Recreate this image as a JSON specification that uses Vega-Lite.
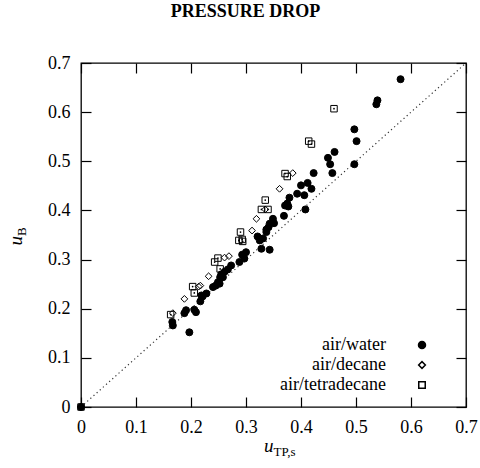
{
  "$schema": "https://vega.github.io/schema/vega-lite/v6.json",
  "width": 385,
  "height": 344,
  "autosize": {"type": "none"},
  "padding": {"left": 81, "top": 63, "right": 14, "bottom": 61},
  "title": {"text": "PRESSURE DROP", "font": "Liberation Serif", "fontSize": 18, "fontWeight": "bold", "color": "black", "anchor": "middle", "dx": -28, "offset": 19, "baseline": "alphabetic"},
  "config": {
    "view": {"stroke": "black", "strokeWidth": 1.3},
    "axis": {"grid": false, "domain": false, "tickSize": 10, "offset": -10, "tickColor": "black", "tickWidth": 1.2, "labelFont": "Liberation Serif", "labelFontSize": 18, "labelColor": "black", "labelPadding": 11, "labelFlush": false, "title": null},
    "legend": {"labelFont": "Liberation Serif", "labelFontSize": 18, "labelColor": "black", "rowPadding": 2, "padding": 0, "labelLimit": 0}
  },
  "datasets": {
    "pts": [
      {"series": "air/water", "x": 0, "y": 0},
      {"series": "air/water", "x": 0.581, "y": 0.667},
      {"series": "air/water", "x": 0.539, "y": 0.624},
      {"series": "air/water", "x": 0.537, "y": 0.616},
      {"series": "air/water", "x": 0.497, "y": 0.565},
      {"series": "air/water", "x": 0.501, "y": 0.541},
      {"series": "air/water", "x": 0.497, "y": 0.494},
      {"series": "air/water", "x": 0.461, "y": 0.519},
      {"series": "air/water", "x": 0.449, "y": 0.507},
      {"series": "air/water", "x": 0.453, "y": 0.494},
      {"series": "air/water", "x": 0.457, "y": 0.476},
      {"series": "air/water", "x": 0.423, "y": 0.476},
      {"series": "air/water", "x": 0.400, "y": 0.451},
      {"series": "air/water", "x": 0.412, "y": 0.456},
      {"series": "air/water", "x": 0.419, "y": 0.444},
      {"series": "air/water", "x": 0.406, "y": 0.431},
      {"series": "air/water", "x": 0.408, "y": 0.402},
      {"series": "air/water", "x": 0.393, "y": 0.434},
      {"series": "air/water", "x": 0.379, "y": 0.426},
      {"series": "air/water", "x": 0.375, "y": 0.414},
      {"series": "air/water", "x": 0.371, "y": 0.410},
      {"series": "air/water", "x": 0.377, "y": 0.408},
      {"series": "air/water", "x": 0.369, "y": 0.389},
      {"series": "air/water", "x": 0.349, "y": 0.383},
      {"series": "air/water", "x": 0.343, "y": 0.373},
      {"series": "air/water", "x": 0.351, "y": 0.374},
      {"series": "air/water", "x": 0.337, "y": 0.361},
      {"series": "air/water", "x": 0.341, "y": 0.366},
      {"series": "air/water", "x": 0.337, "y": 0.356},
      {"series": "air/water", "x": 0.321, "y": 0.347},
      {"series": "air/water", "x": 0.325, "y": 0.339},
      {"series": "air/water", "x": 0.331, "y": 0.343},
      {"series": "air/water", "x": 0.328, "y": 0.322},
      {"series": "air/water", "x": 0.343, "y": 0.320},
      {"series": "air/water", "x": 0.300, "y": 0.315},
      {"series": "air/water", "x": 0.293, "y": 0.310},
      {"series": "air/water", "x": 0.297, "y": 0.302},
      {"series": "air/water", "x": 0.288, "y": 0.295},
      {"series": "air/water", "x": 0.273, "y": 0.288},
      {"series": "air/water", "x": 0.267, "y": 0.280},
      {"series": "air/water", "x": 0.261, "y": 0.275},
      {"series": "air/water", "x": 0.258, "y": 0.264},
      {"series": "air/water", "x": 0.253, "y": 0.264},
      {"series": "air/water", "x": 0.249, "y": 0.254},
      {"series": "air/water", "x": 0.245, "y": 0.247},
      {"series": "air/water", "x": 0.240, "y": 0.244},
      {"series": "air/water", "x": 0.255, "y": 0.270},
      {"series": "air/water", "x": 0.252, "y": 0.251},
      {"series": "air/water", "x": 0.228, "y": 0.231},
      {"series": "air/water", "x": 0.219, "y": 0.227},
      {"series": "air/water", "x": 0.221, "y": 0.225},
      {"series": "air/water", "x": 0.217, "y": 0.215},
      {"series": "air/water", "x": 0.191, "y": 0.197},
      {"series": "air/water", "x": 0.188, "y": 0.191},
      {"series": "air/water", "x": 0.206, "y": 0.198},
      {"series": "air/water", "x": 0.209, "y": 0.193},
      {"series": "air/water", "x": 0.166, "y": 0.173},
      {"series": "air/water", "x": 0.167, "y": 0.166},
      {"series": "air/water", "x": 0.197, "y": 0.152},
      {"series": "air/decane", "x": 0, "y": 0},
      {"series": "air/decane", "x": 0.385, "y": 0.476},
      {"series": "air/decane", "x": 0.361, "y": 0.444},
      {"series": "air/decane", "x": 0.335, "y": 0.402},
      {"series": "air/decane", "x": 0.319, "y": 0.383},
      {"series": "air/decane", "x": 0.311, "y": 0.359},
      {"series": "air/decane", "x": 0.269, "y": 0.307},
      {"series": "air/decane", "x": 0.261, "y": 0.304},
      {"series": "air/decane", "x": 0.232, "y": 0.266},
      {"series": "air/decane", "x": 0.217, "y": 0.247},
      {"series": "air/decane", "x": 0.214, "y": 0.245},
      {"series": "air/decane", "x": 0.188, "y": 0.220},
      {"series": "air/decane", "x": 0.167, "y": 0.191},
      {"series": "air/tetradecane", "x": 0, "y": 0},
      {"series": "air/tetradecane", "x": 0.46, "y": 0.607},
      {"series": "air/tetradecane", "x": 0.414, "y": 0.541},
      {"series": "air/tetradecane", "x": 0.419, "y": 0.535},
      {"series": "air/tetradecane", "x": 0.371, "y": 0.475},
      {"series": "air/tetradecane", "x": 0.375, "y": 0.469},
      {"series": "air/tetradecane", "x": 0.335, "y": 0.421},
      {"series": "air/tetradecane", "x": 0.328, "y": 0.402},
      {"series": "air/tetradecane", "x": 0.340, "y": 0.402},
      {"series": "air/tetradecane", "x": 0.290, "y": 0.356},
      {"series": "air/tetradecane", "x": 0.293, "y": 0.341},
      {"series": "air/tetradecane", "x": 0.287, "y": 0.339},
      {"series": "air/tetradecane", "x": 0.294, "y": 0.337},
      {"series": "air/tetradecane", "x": 0.249, "y": 0.303},
      {"series": "air/tetradecane", "x": 0.243, "y": 0.295},
      {"series": "air/tetradecane", "x": 0.253, "y": 0.281},
      {"series": "air/tetradecane", "x": 0.203, "y": 0.245},
      {"series": "air/tetradecane", "x": 0.206, "y": 0.232},
      {"series": "air/tetradecane", "x": 0.163, "y": 0.188}
    ],
    "diag": [{"x": 0, "y": 0}, {"x": 0.7, "y": 0.7}]
  },
  "layer": [
    {
      "data": {"name": "diag"},
      "mark": {"type": "line", "stroke": "#333333", "strokeWidth": 1.2, "strokeDash": [1.2, 3]},
      "encoding": {
        "x": {"field": "x", "type": "quantitative", "scale": {"domain": [0, 0.7], "nice": false, "zero": false},
              "axis": {"orient": "bottom", "values": [0, 0.1, 0.2, 0.3, 0.4, 0.5, 0.6, 0.7], "labelExpr": "datum.value == 0 ? '0' : format(datum.value, '.1f')"}},
        "y": {"field": "y", "type": "quantitative", "scale": {"domain": [0, 0.7], "nice": false, "zero": false},
              "axis": {"orient": "left", "values": [0, 0.1, 0.2, 0.3, 0.4, 0.5, 0.6, 0.7], "labelExpr": "datum.value == 0 ? '0' : format(datum.value, '.1f')"}}
      }
    },
    {
      "data": {"name": "pts"},
      "mark": {"type": "point", "opacity": 1, "stroke": "black", "strokeWidth": 1},
      "encoding": {
        "x": {"field": "x", "type": "quantitative", "axis": {"orient": "top", "labels": false, "values": [0, 0.1, 0.2, 0.3, 0.4, 0.5, 0.6, 0.7]}},
        "y": {"field": "y", "type": "quantitative", "axis": {"orient": "right", "labels": false, "values": [0, 0.1, 0.2, 0.3, 0.4, 0.5, 0.6, 0.7]}},
        "shape": {"field": "series", "type": "nominal",
                  "legend": {"title": null, "orient": "none", "legendX": 332, "legendY": 273, "labelAlign": "right", "labelOffset": -45,
                             "encode": {"symbols": {"update": {"stroke": {"value": "black"}, "strokeWidth": {"value": 1}}}}},
                  "scale": {"domain": ["air/water", "air/decane", "air/tetradecane"], "range": ["circle", "diamond", "square"]}},
        "fill": {"field": "series", "type": "nominal",
                 "legend": {"title": null, "orient": "none", "legendX": 332, "legendY": 273, "labelAlign": "right", "labelOffset": -45,
                            "encode": {"symbols": {"update": {"stroke": {"value": "black"}, "strokeWidth": {"value": 1}}}}},
                 "scale": {"domain": ["air/water", "air/decane", "air/tetradecane"], "range": ["black", "transparent", "transparent"]}},
        "size": {"field": "series", "type": "nominal",
                 "legend": {"title": null, "orient": "none", "legendX": 332, "legendY": 273, "labelAlign": "right", "labelOffset": -45,
                            "encode": {"symbols": {"update": {"stroke": {"value": "black"}, "strokeWidth": {"value": 1}}}}},
                 "scale": {"domain": ["air/water", "air/decane", "air/tetradecane"], "range": [49, 42, 64]}}
      }
    },
    {
      "data": {"name": "pts"},
      "transform": [{"filter": "datum.series == 'air/tetradecane'"}],
      "mark": {"type": "point", "filled": true, "fill": "black", "opacity": 1, "size": 3, "shape": "circle"},
      "encoding": {
        "x": {"field": "x", "type": "quantitative", "axis": null},
        "y": {"field": "y", "type": "quantitative", "axis": null}
      }
    },
    {
      "data": {"values": [{}]},
      "mark": {"type": "text", "text": "u", "font": "Liberation Serif", "fontStyle": "italic", "fontSize": 19, "align": "right", "baseline": "alphabetic", "color": "black"},
      "encoding": {
        "x": {"datum": 0.35, "type": "quantitative", "axis": null},
        "y": {"datum": -0.0916, "type": "quantitative", "axis": null}
      }
    },
    {
      "data": {"values": [{}]},
      "mark": {"type": "text", "text": "TP,s", "font": "Liberation Serif", "fontSize": 13, "align": "left", "baseline": "alphabetic", "dy": 4, "color": "black"},
      "encoding": {
        "x": {"datum": 0.35, "type": "quantitative", "axis": null},
        "y": {"datum": -0.0916, "type": "quantitative", "axis": null}
      }
    },
    {
      "data": {"values": [{}]},
      "mark": {"type": "text", "text": "u", "font": "Liberation Serif", "fontStyle": "italic", "fontSize": 19, "align": "right", "baseline": "alphabetic", "angle": 270, "color": "black"},
      "encoding": {
        "x": {"datum": -0.107, "type": "quantitative", "axis": null},
        "y": {"datum": 0.348, "type": "quantitative", "axis": null}
      }
    },
    {
      "data": {"values": [{}]},
      "mark": {"type": "text", "text": "B", "font": "Liberation Serif", "fontSize": 13, "align": "left", "baseline": "alphabetic", "angle": 270, "dy": 4, "color": "black"},
      "encoding": {
        "x": {"datum": -0.107, "type": "quantitative", "axis": null},
        "y": {"datum": 0.348, "type": "quantitative", "axis": null}
      }
    }
  ]
}
